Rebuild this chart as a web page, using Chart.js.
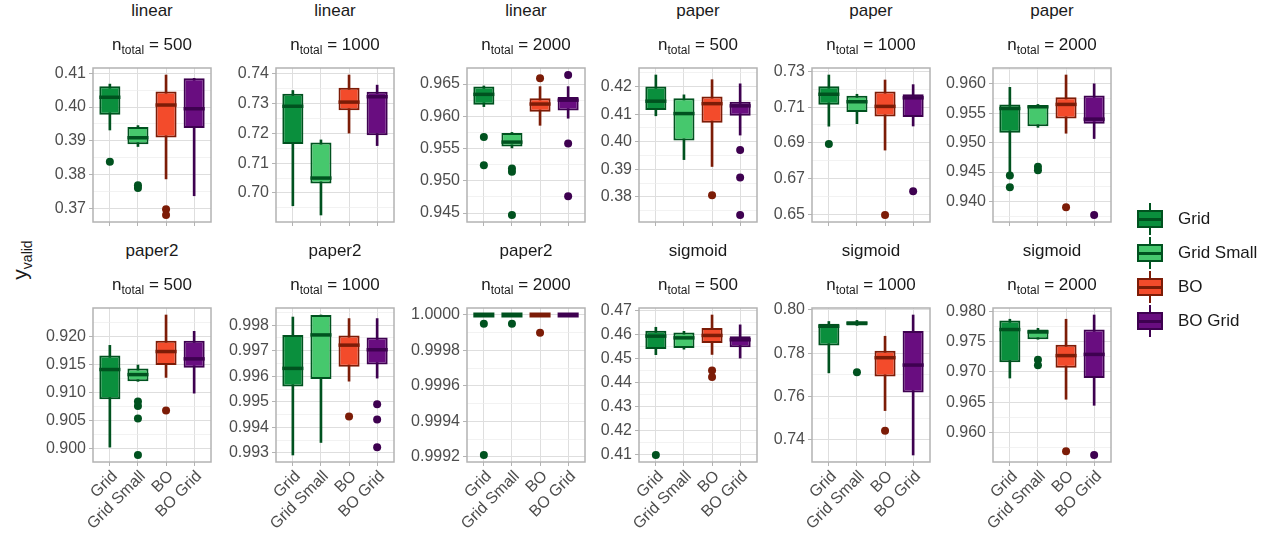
<!DOCTYPE html>
<html>
<head>
<meta charset="utf-8">
<script src="https://cdn.jsdelivr.net/npm/chart.js@4.4.1/dist/chart.umd.min.js"></script>
<style>
  body { margin: 0; background: #fff; width: 1270px; height: 539px; overflow: hidden; position: relative;
         font-family: 'Liberation Sans', Arial, sans-serif; }
  canvas.panel { position: absolute; }
  .strip { position: absolute; width: 200px; text-align: center; font-size: 17px; line-height: 20px;
           color: #1a1a1a; white-space: nowrap; }
  .strip sub { font-size: 12px; vertical-align: -4px; line-height: 0; }
  .ytitle { position: absolute; left: 20px; top: 260px; font-size: 21px; color: #1a1a1a; white-space: nowrap;
            transform: translate(-50%, -50%) rotate(-90deg); }
  .ytitle sub { font-size: 14px; vertical-align: -5px; line-height: 0; }
  .key { position: absolute; width: 26px; height: 32px; }
  .key .wh { position: absolute; left: 12px; top: 0; width: 2px; height: 32px; }
  .key .bx { position: absolute; left: 0; top: 7px; width: 26px; height: 18px; box-sizing: border-box; border: 2px solid; }
  .key .md { position: absolute; left: 0; top: 15px; width: 26px; height: 2.5px; }
  .ktext { position: absolute; font-size: 17px; line-height: 20px; color: #1a1a1a; white-space: nowrap; }
</style>
</head>
<body>
<div class="ytitle">y<sub>valid</sub></div>
<script>
// one facet per entry: linear, paper, paper2, sigmoid x n_total 500/1000/2000
const categories = ['Grid', 'Grid Small', 'BO', 'BO Grid'];
const functions = ['linear', 'linear', 'linear', 'paper', 'paper', 'paper',
                   'paper2', 'paper2', 'paper2', 'sigmoid', 'sigmoid', 'sigmoid'];
const nTotal = [500, 1000, 2000, 500, 1000, 2000, 500, 1000, 2000, 500, 1000, 2000];

// box statistics, one row per facet, one column per category
const whiskerHigh = [
  [0.4068, 0.3945, 0.4095, 0.4085],
  [0.7344, 0.7178, 0.7396, 0.7362],
  [0.9647, 0.9575, 0.9646, 0.9646],
  [0.4242, 0.4170, 0.4225, 0.4210],
  [0.7280, 0.7172, 0.7252, 0.7226],
  [0.9594, 0.9565, 0.9615, 0.9600],
  [0.9184, 0.9149, 0.9238, 0.9209],
  [0.99832, 0.99840, 0.99826, 0.99826],
  [1.0, 1.0, 1.0, 1.0],
  [0.4631, 0.4614, 0.4682, 0.4641],
  [0.7946, 0.7951, 0.7878, 0.7976],
  [0.9787, 0.9772, 0.9787, 0.9794]
];
const upperQuartile = [
  [0.4062, 0.3941, 0.4046, 0.4085],
  [0.7333, 0.7169, 0.7353, 0.7340],
  [0.9646, 0.9574, 0.9628, 0.9630],
  [0.4200, 0.4158, 0.4164, 0.4145],
  [0.7217, 0.7163, 0.7187, 0.7172],
  [0.9565, 0.9563, 0.9577, 0.9580],
  [0.9166, 0.9143, 0.9192, 0.9192],
  [0.99762, 0.99840, 0.99760, 0.99752],
  [1.0, 1.0, 1.0, 1.0],
  [0.4617, 0.4609, 0.4628, 0.4594],
  [0.7936, 0.7945, 0.7811, 0.7902],
  [0.9785, 0.9770, 0.9745, 0.9770]
];
const medians = [
  [0.4029, 0.3909, 0.4006, 0.3995],
  [0.7291, 0.7050, 0.7305, 0.7323],
  [0.9634, 0.9560, 0.9619, 0.9625],
  [0.4147, 0.4102, 0.4138, 0.4130],
  [0.7172, 0.7130, 0.7104, 0.7152],
  [0.9558, 0.9561, 0.9565, 0.9540],
  [0.9141, 0.9132, 0.9173, 0.9160],
  [0.99631, 0.99762, 0.99722, 0.99704],
  [1.0, 1.0, 1.0, 1.0],
  [0.4594, 0.4587, 0.4597, 0.4579],
  [0.7924, 0.7939, 0.7779, 0.7745],
  [0.9770, 0.9766, 0.9727, 0.9729]
];
const lowerQuartile = [
  [0.3977, 0.3890, 0.3910, 0.3938],
  [0.7164, 0.7032, 0.7278, 0.7194],
  [0.9618, 0.9553, 0.9607, 0.9609],
  [0.4115, 0.4004, 0.4069, 0.4094],
  [0.7113, 0.7072, 0.7048, 0.7044],
  [0.9517, 0.9528, 0.9541, 0.9532],
  [0.9088, 0.9120, 0.9149, 0.9144],
  [0.99560, 0.99589, 0.99637, 0.99646],
  [1.0, 1.0, 1.0, 1.0],
  [0.4541, 0.4545, 0.4566, 0.4548],
  [0.7835, 0.7928, 0.7692, 0.7618],
  [0.9716, 0.9754, 0.9707, 0.9690]
];
const whiskerLow = [
  [0.3932, 0.3883, 0.3787, 0.3737],
  [0.6957, 0.6926, 0.7201, 0.7159],
  [0.9615, 0.9551, 0.9586, 0.9597],
  [0.4094, 0.3935, 0.3910, 0.4024],
  [0.6993, 0.7007, 0.6859, 0.6994],
  [0.9450, 0.9526, 0.9516, 0.9507],
  [0.9003, 0.9120, 0.9127, 0.9099],
  [0.99292, 0.99341, 0.99581, 0.99593],
  [1.0, 1.0, 1.0, 1.0],
  [0.4517, 0.4540, 0.4518, 0.4503],
  [0.7709, 0.7928, 0.7535, 0.7330],
  [0.9690, 0.9754, 0.9655, 0.9645]
];
// outliers as [category index, value]
const outliers = [
  [[0, 0.3838], [1, 0.3768], [1, 0.3760], [2, 0.3697], [2, 0.3680]],
  [],
  [[0, 0.9568], [0, 0.9524], [1, 0.9519], [1, 0.9514], [1, 0.9447], [2, 0.9659], [3, 0.9664], [3, 0.9558], [3, 0.9476]],
  [[2, 0.3806], [3, 0.3970], [3, 0.3870], [3, 0.3734]],
  [[0, 0.6893], [2, 0.6495], [3, 0.6628]],
  [[0, 0.9444], [0, 0.9424], [1, 0.9459], [1, 0.9453], [2, 0.9390], [3, 0.9377]],
  [[1, 0.9084], [1, 0.9076], [1, 0.9054], [1, 0.8989], [2, 0.9068]],
  [[2, 0.99443], [3, 0.99491], [3, 0.99431], [3, 0.99322]],
  [[0, 0.99995], [0, 0.99921], [1, 0.99995], [2, 0.99990]],
  [[0, 0.4100], [2, 0.4451], [2, 0.4424]],
  [[1, 0.7712], [2, 0.7442]],
  [[1, 0.9720], [1, 0.9711], [2, 0.9569], [3, 0.9563]]
];
const yTickLabels = [
  ['0.37', '0.38', '0.39', '0.40', '0.41'],
  ['0.70', '0.71', '0.72', '0.73', '0.74'],
  ['0.945', '0.950', '0.955', '0.960', '0.965'],
  ['0.38', '0.39', '0.40', '0.41', '0.42'],
  ['0.65', '0.67', '0.69', '0.71', '0.73'],
  ['0.940', '0.945', '0.950', '0.955', '0.960'],
  ['0.900', '0.905', '0.910', '0.915', '0.920'],
  ['0.993', '0.994', '0.995', '0.996', '0.997', '0.998'],
  ['0.9992', '0.9994', '0.9996', '0.9998', '1.0000'],
  ['0.41', '0.42', '0.43', '0.44', '0.45', '0.46', '0.47'],
  ['0.74', '0.76', '0.78', '0.80'],
  ['0.960', '0.965', '0.970', '0.975', '0.980']
];

const fillColors = ['#0a8f3d', '#46c86d', '#f34b2b', '#690d80'];
const lineColors = ['#00521f', '#00521f', '#7c1c07', '#3e0150'];

// layout of the facet grid
const plotLefts = [93, 276, 467, 639, 812, 993];
const plotTops = [68, 308];
const PW = 118, PH = 154, AXW = 70, PADT = 16, PADR = 8;
const FONT = "'Liberation Sans', Arial, sans-serif";

// medians and the panel border
const boxExtras = {
  id: 'boxExtras',
  afterDatasetsDraw(chart, args, opts) {
    const ctx = chart.ctx, a = chart.chartArea, y = chart.scales.y;
    const p = opts.panel;
    const meta = chart.getDatasetMeta(1);
    ctx.save();
    meta.data.forEach((el, i) => {
      const py = y.getPixelForValue(medians[p][i]);
      const flat = lowerQuartile[p][i] === upperQuartile[p][i];
      ctx.strokeStyle = lineColors[i];
      ctx.lineWidth = flat ? 5 : 3.5;
      ctx.beginPath();
      ctx.moveTo(el.x - el.width / 2, py);
      ctx.lineTo(el.x + el.width / 2, py);
      ctx.stroke();
    });
    ctx.strokeStyle = '#b3b3b3';
    ctx.lineWidth = 1.5;
    ctx.strokeRect(a.left, a.top, a.width, a.height);
    ctx.restore();
  }
};

function yTicksFor(p, lo, hi) {
  const majors = yTickLabels[p].map(Number);
  const step = majors[1] - majors[0];
  const ticks = majors.map((v, i) => ({ value: v, label: yTickLabels[p][i], minor: false }));
  for (let i = -1; i < majors.length; i++) {
    const m = (i < 0 ? majors[0] - step : majors[i]) + step / 2;
    if (m >= lo && m <= hi) ticks.push({ value: m, label: '', minor: true });
  }
  return ticks.sort((a, b) => a.value - b.value);
}

for (let p = 0; p < 12; p++) {
  const col = p % 6, row = Math.floor(p / 6);
  const L = plotLefts[col], T = plotTops[row];
  const bottom = row === 1;
  const xh = bottom ? 82 : 14;

  const all = whiskerHigh[p].concat(whiskerLow[p], outliers[p].map(o => o[1]));
  const dMin = Math.min(...all), dMax = Math.max(...all);
  const pad = (dMax - dMin) * 0.05;
  const yMin = dMin - pad, yMax = dMax + pad;
  const yTicks = yTicksFor(p, yMin, yMax);

  const canvas = document.createElement('canvas');
  canvas.className = 'panel';
  canvas.width = AXW + PW + PADR;
  canvas.height = PADT + PH + xh;
  canvas.style.left = (L - AXW) + 'px';
  canvas.style.top = (T - PADT) + 'px';
  document.body.appendChild(canvas);

  new Chart(canvas.getContext('2d'), {
    type: 'bar',
    data: {
      datasets: [
        {
          type: 'scatter',
          data: outliers[p].map(o => ({ x: o[0], y: o[1] })),
          pointRadius: 4,
          pointBackgroundColor: outliers[p].map(o => lineColors[o[0]]),
          pointBorderWidth: 0
        },
        {
          data: categories.map((c, i) => ({ x: i, y: [lowerQuartile[p][i], upperQuartile[p][i]] })),
          backgroundColor: fillColors,
          borderColor: lineColors,
          borderWidth: 2,
          borderSkipped: false,
          grouped: false,
          barPercentage: 0.75,
          categoryPercentage: 1
        },
        {
          data: categories.map((c, i) => ({ x: i, y: [whiskerLow[p][i], whiskerHigh[p][i]] })),
          backgroundColor: lineColors,
          borderWidth: 0,
          grouped: false,
          maxBarThickness: 2,
          barPercentage: 1,
          categoryPercentage: 1
        }
      ]
    },
    options: {
      responsive: false,
      animation: false,
      events: [],
      layout: { padding: { top: PADT, right: PADR, left: 0, bottom: 0 } },
      plugins: {
        legend: { display: false },
        tooltip: { enabled: false },
        boxExtras: { panel: p }
      },
      scales: {
        x: {
          type: 'linear',
          min: -0.6,
          max: 3.6,
          offset: false,
          afterBuildTicks: s => { s.ticks = categories.map((c, i) => ({ value: i })); },
          afterFit: s => { s.height = xh; },
          ticks: {
            display: bottom,
            autoSkip: false,
            minRotation: 45,
            maxRotation: 45,
            padding: 1,
            labelOffset: 5,
            color: '#4d4d4d',
            font: { family: FONT, size: 16 },
            callback: v => categories[v]
          },
          grid: { color: '#dedede', lineWidth: 1, tickLength: 4, tickColor: '#b3b3b3', offset: false },
          border: { display: false }
        },
        y: {
          min: yMin,
          max: yMax,
          afterBuildTicks: s => { s.ticks = yTicks.map(t => ({ value: t.value, label: t.label, minor: t.minor })); },
          afterFit: s => { s.width = AXW; },
          ticks: {
            autoSkip: false,
            padding: 3,
            color: '#4d4d4d',
            font: { family: FONT, size: 16 },
            callback: (v, i, t) => yTicks[i].label
          },
          grid: {
            color: c => (c.tick && c.tick.minor) ? '#ececec' : '#dedede',
            lineWidth: c => (c.tick && c.tick.minor) ? 0.7 : 1,
            tickLength: 4,
            tickColor: c => (c.tick && c.tick.minor) ? 'rgba(0,0,0,0)' : '#b3b3b3'
          },
          border: { display: false }
        }
      }
    },
    plugins: [boxExtras]
  });

  const s1 = document.createElement('div');
  s1.className = 'strip';
  s1.style.left = (L + PW / 2 - 100) + 'px';
  s1.style.top = (T - 67) + 'px';
  s1.textContent = functions[p];
  document.body.appendChild(s1);

  const s2 = document.createElement('div');
  s2.className = 'strip';
  s2.style.left = (L + PW / 2 - 100) + 'px';
  s2.style.top = (T - 33) + 'px';
  s2.innerHTML = 'n<sub>total</sub> = ' + nTotal[p];
  document.body.appendChild(s2);
}

// legend
const legendTop = 203, legendStep = 34;
categories.forEach((c, i) => {
  const cy = legendTop + 16 + i * legendStep;
  const key = document.createElement('div');
  key.className = 'key';
  key.style.left = '1137px';
  key.style.top = (cy - 16) + 'px';
  key.innerHTML = '<div class="wh" style="background:' + lineColors[i] + '"></div>' +
    '<div class="bx" style="background:' + fillColors[i] + ';border-color:' + lineColors[i] + '"></div>' +
    '<div class="md" style="background:' + lineColors[i] + '"></div>';
  document.body.appendChild(key);
  const t = document.createElement('div');
  t.className = 'ktext';
  t.style.left = '1178px';
  t.style.top = (cy - 10) + 'px';
  t.textContent = c;
  document.body.appendChild(t);
});
</script>
</body>
</html>
